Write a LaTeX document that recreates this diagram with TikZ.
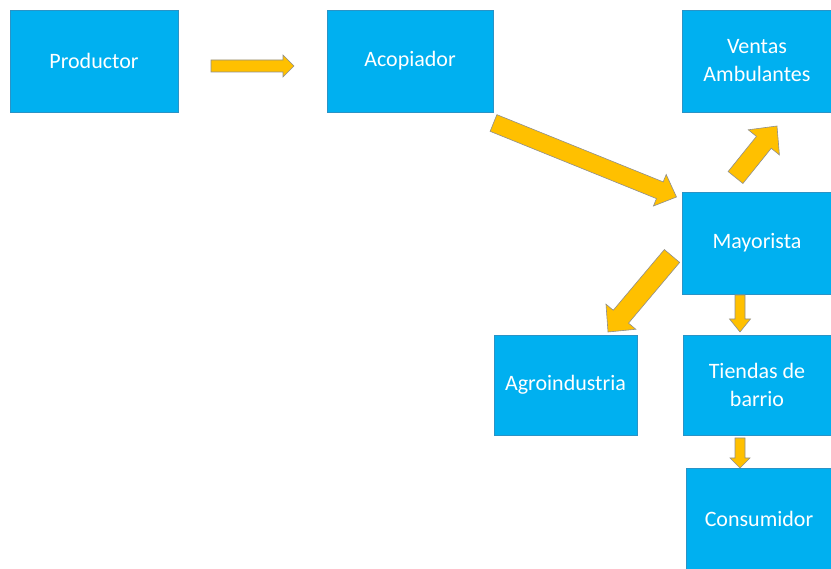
\documentclass[tikz,border=0pt]{standalone}
\usepackage{fontspec}
\setmainfont{Carlito}
\usepackage{tikz}
\usetikzlibrary{positioning,calc}

\definecolor{azulcaja}{HTML}{00B0F0}
\definecolor{bordecaja}{HTML}{2A93C6}
\definecolor{oroflecha}{HTML}{FFC000}
\definecolor{grisflecha}{HTML}{8E8E8E}

% flecha gruesa: desde, hasta, medio ancho del cuerpo, medio ancho de la punta, largo de la punta (en pt)
\newcommand{\flecha}[5]{%
  \coordinate (hb) at ($(#2)!#5pt!(#1)$);
  \filldraw[flechabloque] ($(#1)!#3pt!90:(#2)$) -- ($(hb)!#3pt!90:(#2)$) -- ($(hb)!#4pt!90:(#2)$)
    -- (#2) -- ($(hb)!#4pt!-90:(#2)$) -- ($(hb)!#3pt!-90:(#2)$) -- ($(#1)!#3pt!-90:(#2)$) -- cycle;}

\begin{document}
\begin{tikzpicture}[x=1pt,y=1pt,
    caja/.style={rectangle,fill=azulcaja,draw=bordecaja,line width=0.6pt,text=white,
                 align=center,inner sep=0pt,outer sep=0pt,minimum height=102pt,
                 font=\fontsize{22}{28}\selectfont},
    flechabloque/.style={fill=oroflecha,draw=grisflecha,line width=0.6pt,line join=miter}]
  \useasboundingbox (0,0) rectangle (831,-569);
  \clip (0,0) rectangle (831,-569);

  \node[caja,minimum width=168pt] (prod)                          at (94,-61) {Productor};
  \node[caja,minimum width=166pt] (acop)    [right=149pt of prod]  {Acopiador};
  \node[caja,minimum width=150pt] (ventas)  [right=189pt of acop]  {Ventas\\Ambulantes};
  \node[caja,minimum width=149pt] (mayor)   [below=80pt of ventas] {Mayorista};
  \node[caja,minimum width=148pt,minimum height=100pt] (tiendas) [below=41pt of mayor] {Tiendas de\\barrio};
  \node[caja,minimum width=143pt,minimum height=100pt] (agro)    [left=46pt of tiendas] {Agroindustria};
  \node[caja,minimum width=145pt] (consum)  [below=33pt of tiendas,xshift=2pt] {Consumidor};

  \coordinate (f1a) at ($(prod.east)+(33,-5)$);
  \coordinate (f1b) at ($(acop.west)+(-33,-5)$);
  \coordinate (f2a) at ($(acop.south east)+(0.5,-11)$);
  \coordinate (f2b) at ($(mayor.north west)+(-6,-5)$);
  \coordinate (f3a) at ($(mayor.north)+(-21.5,14.5)$);
  \coordinate (f3b) at ($(ventas.south)+(20,-14)$);
  \coordinate (f4a) at ($(mayor.west)+(-10.5,-13)$);
  \coordinate (f4b) at ($(agro.north)+(42.5,3)$);
  \coordinate (f5a) at ($(mayor.south)+(-17,-1)$);
  \coordinate (f5b) at ($(tiendas.north)+(-17,3)$);
  \coordinate (f6a) at ($(tiendas.south)+(-17,-3)$);
  \coordinate (f6b) at ($(consum.north)+(-19,0)$);

  \flecha{f1a}{f1b}{6}{11}{11}
  \flecha{f2a}{f2b}{9}{17}{18}
  \flecha{f3a}{f3b}{9.5}{20}{21}
  \flecha{f4a}{f4b}{10}{19.5}{20}
  \flecha{f5a}{f5b}{5}{10.5}{13}
  \flecha{f6a}{f6b}{5}{10}{10}

\end{tikzpicture}
\end{document}
